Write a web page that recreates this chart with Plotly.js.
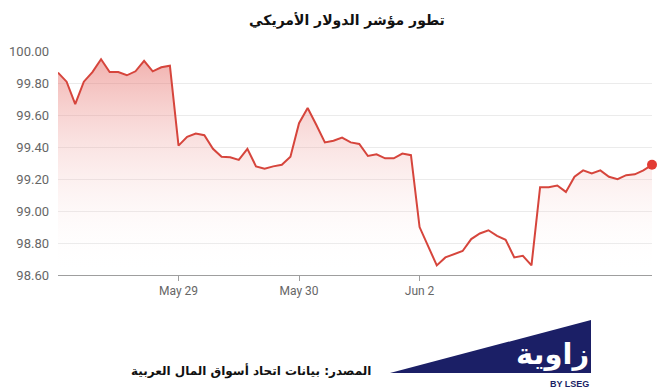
<!DOCTYPE html>
<html>
<head>
<meta charset="utf-8">
<script src="https://cdn.plot.ly/plotly-3.0.1.min.js"></script>
<style>
  html, body { margin: 0; padding: 0; background: #ffffff; }
  #chart { width: 668px; height: 392px; }
</style>
</head>
<body>
<div id="chart"></div>
<script>
// ---- Data ----
const titleText = 'تطور مؤشر الدولار الأمريكي';
const sourceText = 'المصدر: بيانات اتحاد أسواق المال العربية';
const logoText = 'زاوية';
const logoSub = 'BY LSEG';

// trading days shown, 14 readings per day
const days = ['May 28', 'May 29', 'May 30', 'Jun 2', 'Jun 3'];
const labeledDays = ['May 29', 'May 30', 'Jun 2'];
const pointsPerDay = 14;

// US dollar index values
const dxy = [
  99.867, 99.81, 99.67, 99.81, 99.87, 99.95, 99.87, 99.87, 99.85, 99.875, 99.94, 99.875, 99.90, 99.91,
  99.41, 99.465, 99.485, 99.475, 99.39, 99.34, 99.337, 99.32, 99.39, 99.28, 99.265, 99.28, 99.29, 99.34,
  99.55, 99.645, 99.54, 99.43, 99.44, 99.46, 99.43, 99.42, 99.345, 99.355, 99.33, 99.33, 99.36, 99.35,
  98.90, 98.78, 98.66, 98.71, 98.73, 98.75, 98.825, 98.86, 98.88, 98.845, 98.82, 98.71, 98.72, 98.66,
  99.15, 99.15, 99.16, 99.12, 99.215, 99.255, 99.235, 99.255, 99.215, 99.20, 99.225, 99.23, 99.255, 99.29
];
const yTicks = [98.6, 98.8, 99.0, 99.2, 99.4, 99.6, 99.8, 100.0];

// ---- Build ----
const xIdx = dxy.map((_, i) => i);
const tickVals = labeledDays.map(d => days.indexOf(d) * pointsPerDay);
const lastI = dxy.length - 1;

const lineTrace = {
  type: 'scatter',
  mode: 'lines',
  x: xIdx,
  y: dxy,
  line: { color: '#d6453c', width: 2 },
  fill: 'tozeroy',
  fillgradient: {
    type: 'vertical',
    start: yTicks[0],
    stop: yTicks[yTicks.length - 1],
    colorscale: [[0, 'rgba(255,255,255,0)'], [1, 'rgba(226,90,84,0.5)']]
  },
  hoverinfo: 'skip'
};

const lastTrace = {
  type: 'scatter',
  mode: 'markers',
  x: [xIdx[lastI]],
  y: [dxy[lastI]],
  marker: { color: '#e23b33', size: 10 },
  cliponaxis: false,
  hoverinfo: 'skip'
};

const navy = '#1b1f66';

const layout = {
  width: 668,
  height: 392,
  margin: { l: 58, r: 16, t: 51, b: 117 },
  paper_bgcolor: '#ffffff',
  plot_bgcolor: '#ffffff',
  showlegend: false,
  hovermode: false,
  title: {
    text: '<b>' + titleText + '</b>',
    font: { family: 'DejaVu Sans', size: 14, color: '#111111' },
    xref: 'paper', x: 0.4865, xanchor: 'center',
    yref: 'container', y: 1 - 20 / 392, yanchor: 'middle'
  },
  xaxis: {
    range: [0, lastI],
    tickmode: 'array',
    tickvals: tickVals,
    ticktext: labeledDays,
    showgrid: false,
    zeroline: false,
    showline: true,
    linecolor: '#9e9e9e',
    linewidth: 1,
    ticks: 'outside',
    ticklen: 5,
    tickcolor: '#9e9e9e',
    tickfont: { family: 'Roboto', size: 12, color: '#666666' },
    fixedrange: true
  },
  yaxis: {
    range: [yTicks[0], yTicks[yTicks.length - 1] + 0.002],
    tickmode: 'array',
    tickvals: yTicks,
    ticktext: yTicks.map(v => v.toFixed(2)),
    showgrid: true,
    gridcolor: '#ebebeb',
    gridwidth: 1,
    zeroline: false,
    showline: false,
    ticks: '',
    ticklabelstandoff: 8,
    tickfont: { family: 'Roboto', size: 13, color: '#666666' },
    fixedrange: true
  },
  shapes: [
    {
      type: 'path',
      xref: 'paper', yref: 'paper',
      path: 'M 0.5589 -0.4375 L 0.8973 -0.2009 L 0.8973 -0.4375 Z',
      fillcolor: navy,
      line: { width: 0 }
    }
  ],
  annotations: [
    {
      text: '<b>' + sourceText + '</b>',
      xref: 'paper', yref: 'paper',
      x: 0.530, y: -0.4286, xanchor: 'right', yanchor: 'middle',
      showarrow: false,
      font: { family: 'DejaVu Sans', size: 12, color: '#111111' }
    },
    {
      text: '<b>' + logoText + '</b>',
      xref: 'paper', yref: 'paper',
      x: 0.8973, y: -0.352, xanchor: 'right', yanchor: 'middle',
      showarrow: false,
      font: { family: 'DejaVu Sans', size: 29, color: '#ffffff' }
    },
    {
      text: '<b>' + logoSub + '</b>',
      xref: 'paper', yref: 'paper',
      x: 0.8973, y: -0.4844, xanchor: 'right', yanchor: 'middle',
      showarrow: false,
      font: { family: 'Liberation Sans', size: 9, color: navy }
    }
  ]
};

Plotly.newPlot('chart', [lineTrace, lastTrace], layout, { displayModeBar: false, staticPlot: true });
</script>
</body>
</html>
